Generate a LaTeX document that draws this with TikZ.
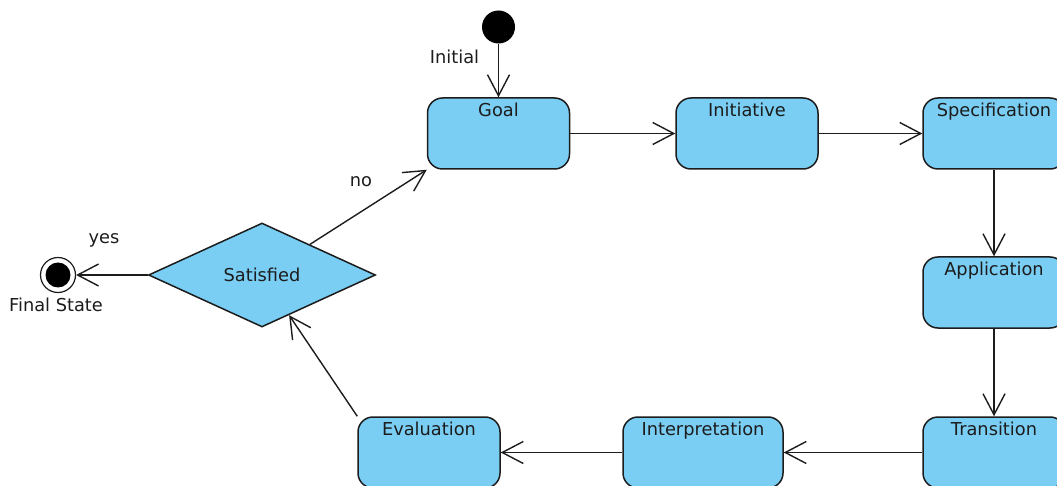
\documentclass[tikz,border=0pt]{standalone}
\usepackage{fontspec}
\setmainfont{DejaVu Sans}
\usetikzlibrary{arrows.meta,shapes.geometric}
\definecolor{statefill}{RGB}{122,206,244}
\definecolor{ink}{RGB}{28,28,28}
\begin{document}
\begin{tikzpicture}[x=1pt,y=-1pt,
  font=\fontsize{17.8}{20}\selectfont,
  every node/.style={text=ink},
  statebox/.style={draw=ink, line width=1.5pt, fill=statefill,
    rounded corners=15pt, minimum height=71pt, minimum width=142pt, inner sep=0pt},
  boxlabel/.style={anchor=base, yshift=-19pt},
  decision/.style={diamond, draw=ink, line width=1.5pt, fill=statefill,
    minimum width=227pt, minimum height=104pt, inner sep=0pt},
  flow/.style={draw=ink, line width=1.4pt, -{Straight Barb[length=21pt,width=22pt]}},
  tag/.style={anchor=base, inner sep=0pt}
]
\useasboundingbox (0,0) rectangle (1057,486);

% start and end points
\node[circle, fill=black, minimum size=33pt, inner sep=0pt] (start) at (498.5,27) {};
\node[circle, draw=ink, line width=1.2pt, fill=white, minimum size=35pt, inner sep=0pt,
  path picture={\fill[black] (path picture bounding box.center) circle (12.5pt);}]
  (final) at (58,275) {};

% activity states
\node[statebox, label={[boxlabel]north:Goal}] (goal) at (498.5,133.5) {};
\node[statebox, label={[boxlabel]north:Initiative}] (init) at (747,133.5) {};
\node[statebox, label={[boxlabel]north:Specification}] (spec) at (994,133.5) {};
\node[statebox, label={[boxlabel]north:Application}] (appl) at (994,292.5) {};
\node[statebox, label={[boxlabel]north:Transition}] (trans) at (994,452.5) {};
\node[statebox, minimum width=160pt, label={[boxlabel]north:Interpretation}] (interp) at (703,452.5) {};
\node[statebox, label={[boxlabel]north:Evaluation}] (eval) at (429,452.5) {};

% decision
\node[decision] (sat) at (262,275) {Satisfied};

% transitions
\draw[flow] (start) -- (goal.north -| start);
\draw[flow] (goal) -- (init);
\draw[flow] (init) -- (spec);
\draw[flow] (spec) -- (appl);
\draw[flow] (appl) -- (trans);
\draw[flow] (trans) -- (interp);
\draw[flow] (interp) -- (eval);
\draw[flow] (eval.north west) -- (sat);
\draw[flow] (sat) -- (goal.south west);
\draw[flow] (sat) -- (final);

% labels
\node[tag] (lblinit) at (454.5,64) {Initial};
\node[tag] (lblyes) at (104,244) {yes};
\node[tag] (lblno) at (361,187) {no};
\node[tag] (lblfinal) at (56,311) {Final State};
\end{tikzpicture}
\end{document}
